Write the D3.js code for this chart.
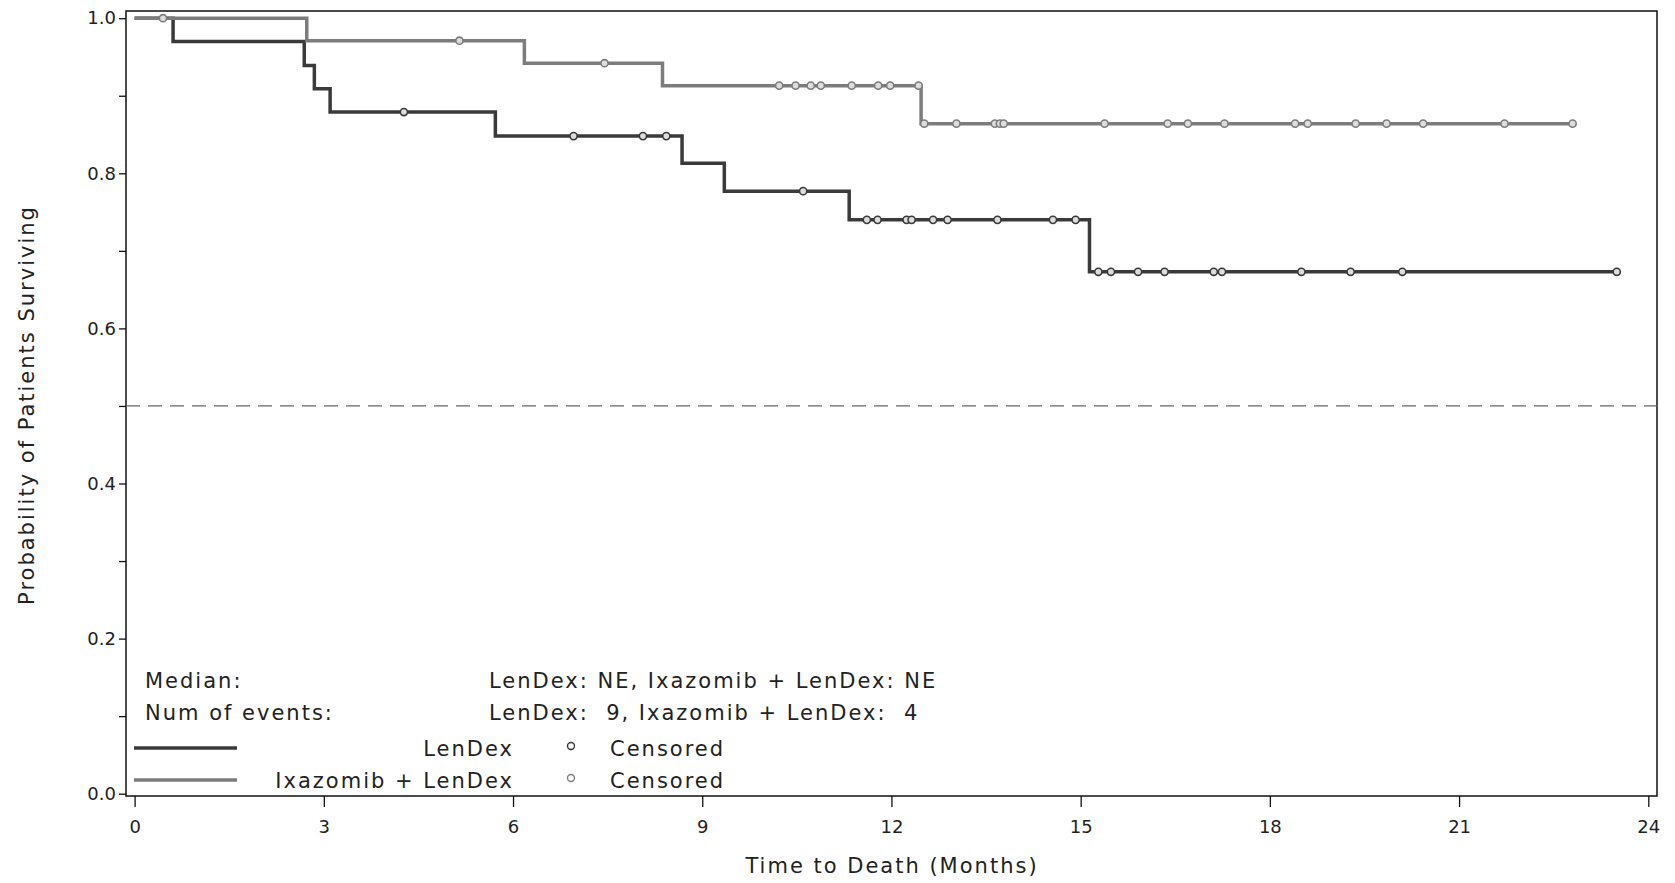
<!DOCTYPE html>
<html>
<head>
<meta charset="utf-8">
<script src="https://cdn.jsdelivr.net/npm/d3@7"></script>
<style>
  body { margin: 0; background: #fff; }
  text { font-family: "DejaVu Sans", sans-serif; fill: #222; }
  .lbl { font-size: 21px; letter-spacing: 2px; }
  .tick-lbl { font-size: 18px; }
</style>
</head>
<body>
<svg id="km"></svg>
<script>
// LenDex arm: step times (months) and survival after each step
const lenTimes = [0, 0.61, 2.69, 2.85, 3.10, 5.72, 8.68, 9.35, 11.33, 15.14];
const lenSurv = [1.0, 0.970, 0.939, 0.909, 0.879, 0.848, 0.813, 0.777, 0.740, 0.673];
const lenEnd = 23.50;
const lenCensor = [4.27, 6.96, 8.06, 8.43, 10.60, 11.61, 11.78, 12.24, 12.32, 12.66, 12.89,
  13.68, 14.56, 14.92, 15.28, 15.48, 15.91, 16.33, 17.11, 17.24, 18.50, 19.28, 20.10, 23.50];

// Ixazomib + LenDex arm
const ixaTimes = [0, 2.73, 6.18, 8.37, 12.47];
const ixaSurv = [1.0, 0.971, 0.942, 0.913, 0.864];
const ixaEnd = 22.80;
const ixaCensor = [0.45, 5.15, 7.45, 10.22, 10.48, 10.72, 10.88, 11.37, 11.79, 11.98, 12.43,
  12.52, 13.03, 13.64, 13.72, 13.78, 15.38, 16.38, 16.70, 17.28, 18.40, 18.60, 19.36, 19.85,
  20.43, 21.72, 22.80];

const xTicks = [0, 3, 6, 9, 12, 15, 18, 21, 24];
const yTicks = [0, 0.1, 0.2, 0.3, 0.4, 0.5, 0.6, 0.7, 0.8, 0.9, 1.0];
const yLabelled = [0, 0.2, 0.4, 0.6, 0.8, 1.0];

const width = 1675, height = 883;
const frame = { left: 126, right: 1657, top: 11, bottom: 796 };

const svg = d3.select("#km").attr("width", width).attr("height", height);

const x = d3.scaleLinear().domain([0, 24]).range([134.6, 1648.3]);
const y = d3.scaleLinear().domain([0, 1]).range([793.7, 18.2]);

// plot box
svg.append("rect")
  .attr("x", frame.left).attr("y", frame.top)
  .attr("width", frame.right - frame.left).attr("height", frame.bottom - frame.top)
  .attr("fill", "none").attr("stroke", "#111").attr("stroke-width", 1.5);

// axes
const xAxis = svg.append("g")
  .attr("transform", `translate(0, ${frame.bottom})`)
  .call(d3.axisBottom(x).tickValues(xTicks).tickSize(11).tickPadding(13).tickFormat(d3.format("d")));
const yAxis = svg.append("g")
  .attr("transform", `translate(${frame.left}, 0)`)
  .call(d3.axisLeft(y).tickValues(yTicks).tickSize(7).tickPadding(3)
    .tickFormat(d => yLabelled.some(v => Math.abs(v - d) < 1e-9) ? d3.format(".1f")(d) : ""));
[xAxis, yAxis].forEach(a => {
  a.select(".domain").remove();
  a.selectAll(".tick line").attr("stroke", "#111").attr("stroke-width", 1.3);
  a.selectAll(".tick text").attr("class", "tick-lbl").attr("fill", "#222");
});

// median reference line
svg.append("line")
  .attr("x1", frame.left).attr("x2", frame.right)
  .attr("y1", y(0.5)).attr("y2", y(0.5))
  .attr("stroke", "#666").attr("stroke-width", 1.2)
  .attr("stroke-dasharray", "14,8");

const step = d3.line().x(d => x(d[0])).y(d => y(d[1])).curve(d3.curveStepAfter);

function survAt(times, surv, t) {
  let s = surv[0];
  for (let i = 0; i < times.length; i++) if (times[i] <= t) s = surv[i];
  return s;
}

function drawArm(times, surv, end, censor, color) {
  const pts = times.map((t, i) => [t, surv[i]]);
  pts.push([end, surv[surv.length - 1]]);
  svg.append("path").datum(pts)
    .attr("d", step).attr("fill", "none")
    .attr("stroke", color).attr("stroke-width", 3.5);
  svg.append("g").selectAll("circle")
    .data(censor).enter().append("circle")
    .attr("cx", d => x(d))
    .attr("cy", d => y(survAt(times, surv, d)))
    .attr("r", 3.6)
    .attr("fill", "#ddd").attr("stroke", color).attr("stroke-width", 1.6);
}

drawArm(lenTimes, lenSurv, lenEnd, lenCensor, "#3a3a3a");
drawArm(ixaTimes, ixaSurv, ixaEnd, ixaCensor, "#7c7c7c");

// summary text
svg.append("text").attr("class", "lbl").attr("x", 145).attr("y", 688).text("Median:");
svg.append("text").attr("class", "lbl").attr("x", 145).attr("y", 720).text("Num of events:");
svg.append("text").attr("class", "lbl").attr("x", 489).attr("y", 688)
  .text("LenDex: NE, Ixazomib + LenDex: NE");
svg.append("text").attr("class", "lbl").attr("x", 489).attr("y", 720)
  .attr("xml:space", "preserve")
  .text("LenDex:  9, Ixazomib + LenDex:  4");

// legend
const legend = [
  { name: "LenDex", color: "#3a3a3a", y: 748 },
  { name: "Ixazomib + LenDex", color: "#7c7c7c", y: 780 }
];
legend.forEach(l => {
  svg.append("line")
    .attr("x1", 134).attr("x2", 237).attr("y1", l.y).attr("y2", l.y)
    .attr("stroke", l.color).attr("stroke-width", 3.5);
  svg.append("text").attr("class", "lbl")
    .attr("x", 514).attr("y", l.y + 8).attr("text-anchor", "end").text(l.name);
  svg.append("circle")
    .attr("cx", 571).attr("cy", l.y - 2).attr("r", 3.5)
    .attr("fill", "none").attr("stroke", l.color).attr("stroke-width", 1.4);
  svg.append("text").attr("class", "lbl")
    .attr("x", 610).attr("y", l.y + 8).text("Censored");
});

// axis titles
svg.append("text").attr("class", "lbl")
  .attr("x", 892).attr("y", 873).attr("text-anchor", "middle")
  .text("Time to Death (Months)");
svg.append("text").attr("class", "lbl")
  .attr("transform", "translate(34, 405) rotate(-90)")
  .attr("text-anchor", "middle")
  .text("Probability of Patients Surviving");
</script>
</body>
</html>
